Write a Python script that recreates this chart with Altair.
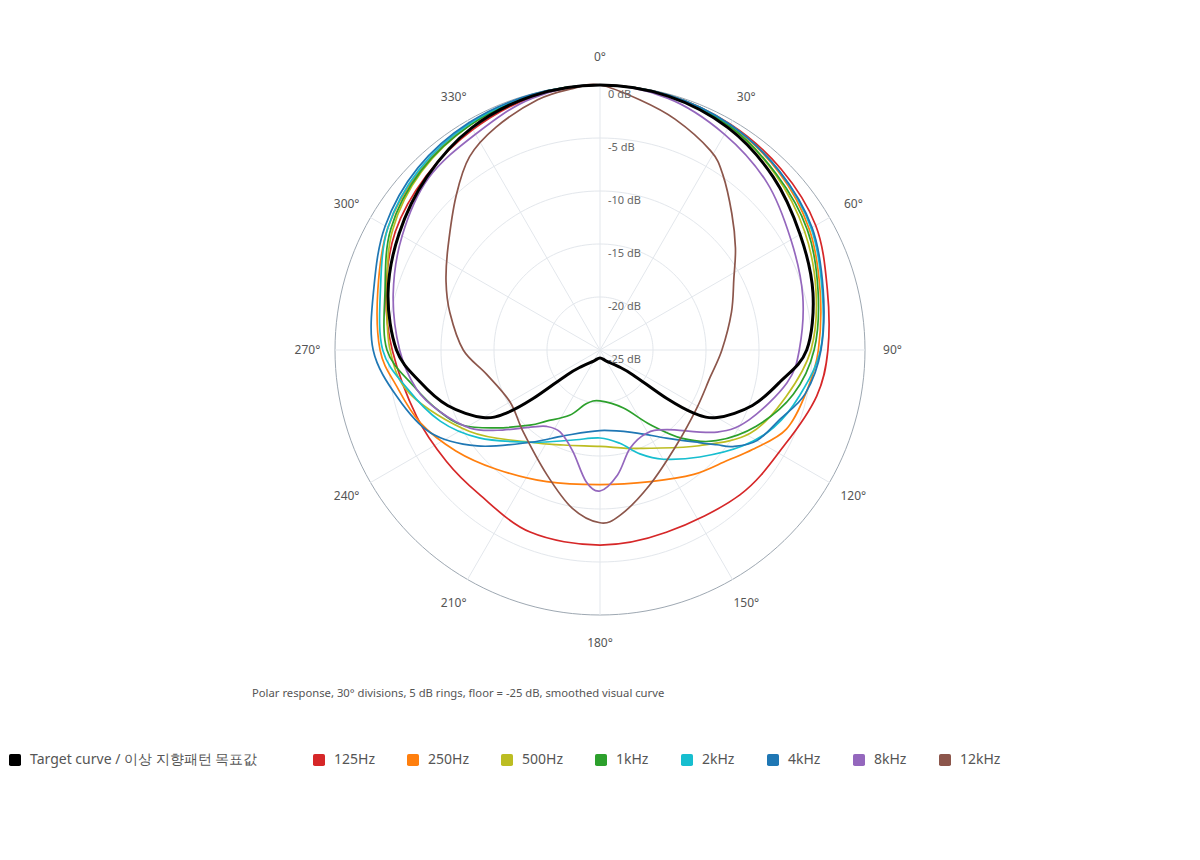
import altair as alt
import pandas as pd

FLOOR_DB = -25.0

SERIES = ["125Hz", "250Hz", "500Hz", "1kHz", "2kHz", "4kHz", "8kHz", "12kHz"]
COLORS = ["#d62728", "#ff7f0e", "#bcbd22", "#2ca02c", "#17becf", "#1f77b4", "#9467bd", "#8c564b"]
TARGET_NAME = "Target curve / 이상 지향패턴 목표값"

# --- measured curves: angle (deg, clockwise from front) and level (dB) ---
ang_125 = [0, 15, 30, 45, 60, 75, 90, 102, 117, 136, 160, 180, 201, 220, 234, 250, 270, 285, 300, 315, 330, 345]
db_125 = [0, -0.1, -0.4, -0.85, -1.5, -2.8, -3.5, -4.1, -5.4, -6.0, -6.7, -6.6, -6.6, -7.25, -7.1, -6.6, -5.4, -4.1, -2.7, -1.8, -1.0, -0.3]

ang_250 = [0, 15, 30, 45, 60, 75, 90, 101, 113, 123, 131, 143, 159, 180, 202, 221, 235, 248, 260, 270, 285, 300, 315, 330, 345]
db_250 = [0, -0.1, -0.5, -1.2, -2.2, -3.5, -4.4, -5.1, -5.9, -7.8, -9.1, -10.3, -11.7, -12.3, -11.6, -10.1, -8.4, -6.7, -5.5, -4.25, -3.3, -1.9, -1.0, -0.4, -0.1]

ang_500 = [0, 15, 30, 45, 60, 75, 90, 104, 119, 134, 153, 165, 180, 201, 217, 238, 257, 270, 285, 300, 315, 330, 345]
db_500 = [0, -0.15, -0.6, -1.6, -2.7, -3.9, -5.1, -6.9, -8.8, -12.0, -14.6, -15.4, -15.9, -15.4, -14.1, -10.5, -6.6, -5.2, -4.2, -2.4, -1.2, -0.5, -0.1]

ang_1k = [0, 15, 30, 45, 60, 75, 90, 103, 116, 128, 137, 146, 158, 180, 194, 205, 217, 223, 233, 241, 249, 259, 270, 285, 300, 315, 330, 345]
db_1k = [0, -0.15, -0.6, -1.5, -2.4, -3.7, -4.8, -6.3, -8.6, -11.1, -13.6, -16.5, -19.1, -20.2, -19.8, -18.2, -16.6, -15.3, -12.8, -10.3, -8.8, -7.1, -4.9, -4.0, -2.2, -1.1, -0.5, -0.1]

ang_2k = [0, 15, 30, 45, 60, 75, 90, 103, 114, 124, 137, 150, 159, 168, 180, 198, 217, 234, 246, 259, 270, 285, 300, 315, 330, 345]
db_2k = [0, -0.1, -0.45, -1.1, -2.0, -3.3, -4.2, -5.7, -7.05, -8.8, -11.2, -13.1, -14.5, -16.0, -16.7, -16.05, -14.1, -10.9, -8.5, -6.4, -4.5, -3.55, -1.9, -0.9, -0.35, -0.1]

ang_4k = [0, 15, 30, 45, 60, 75, 90, 102, 111, 120, 126, 129, 133, 143, 158, 180, 203, 217, 232, 244, 257, 270, 285, 300, 315, 330, 345]
db_4k = [0, -0.1, -0.45, -1.1, -1.9, -3.2, -4.15, -5.2, -6.8, -7.9, -9.5, -10.8, -12.2, -14.6, -16.6, -17.4, -16.2, -14.1, -10.3, -7.2, -5.35, -3.6, -2.9, -1.6, -0.7, -0.25, -0.05]

ang_8k = [0, 15, 30, 45, 60, 75, 90, 100, 115, 125, 140, 151, 163, 172, 180, 186, 195, 206, 215, 222, 232, 239, 249, 258, 270, 285, 300, 315, 330, 345]
db_8k = [0, -0.4, -1.5, -2.7, -4.2, -5.2, -6.2, -7.1, -9.45, -11.5, -15.2, -16.0, -15.3, -13.1, -11.7, -12.5, -15.1, -16.4, -16.2, -15.2, -12.7, -10.7, -8.8, -7.3, -6.1, -4.8, -3.45, -2.1, -1.5, -0.4]

ang_12k = [0, 9, 18, 29, 35, 44, 53, 62, 74, 90, 104, 121, 141, 160, 173, 180, 190, 203, 223, 240, 258, 270, 284, 294, 304, 317, 326, 335, 346, 354]
db_12k = [0, -1.1, -2.1, -3.5, -4.8, -7.1, -9.0, -10.7, -12.1, -13.5, -14.3, -14.35, -13.5, -11.4, -9.3, -8.7, -9.85, -12.2, -14.4, -15.2, -14.05, -12.1, -10.4, -9.1, -7.7, -5.1, -3.0, -1.8, -0.67, -0.2]

ang_target = [0, 15, 30, 45, 60, 75, 90, 100, 110, 120, 124, 126, 127, 132, 150, 180, 210, 228, 233, 234, 236, 240, 250, 260, 270, 285, 300, 315, 330, 345]
db_target = [0, -0.2, -0.8, -1.9, -3.2, -4.2, -5.5, -7.75, -9.7, -12.25, -14.4, -17.2, -21.1, -22.7, -23.8, -24.25, -23.8, -22.7, -21.1, -17.2, -14.4, -12.25, -9.7, -7.75, -5.8, -4.3, -3.1, -1.9, -0.8, -0.2]

curve_angles = [ang_125, ang_250, ang_500, ang_1k, ang_2k, ang_4k, ang_8k, ang_12k]
curve_dbs = [db_125, db_250, db_500, db_1k, db_2k, db_4k, db_8k, db_12k]

# grid definition
ring_levels = [-20, -15, -10, -5]
outer_level = [0]
label_levels = [0, -5, -10, -15, -20, -25]
spoke_angles = list(range(0, 360, 30))
circle_steps = list(range(0, 360, 2))

rows = []
for name, angs, dbs in zip(SERIES, curve_angles, curve_dbs):
    for a, d in zip(angs, dbs):
        rows.append({"series": name, "angle": a, "db": d})
curves_df = pd.DataFrame(rows)
target_df = pd.DataFrame({"series": TARGET_NAME, "angle": ang_target, "db": db_target})

rings_df = pd.DataFrame([{"level": lv, "angle": a} for lv in ring_levels for a in circle_steps])
outer_df = pd.DataFrame([{"level": lv, "angle": a} for lv in outer_level for a in circle_steps])
spokes_df = pd.DataFrame({"angle": spoke_angles})
dblab_df = pd.DataFrame({"level": label_levels})

XS = alt.Scale(domain=[-25, 25], nice=False, zero=False)
YS = alt.Scale(domain=[-25, 25], nice=False, zero=False)


def polar(chart, db_field="db", ang_field="angle"):
    return chart.transform_calculate(
        r=f"max(0, datum.{db_field} - ({FLOOR_DB}))"
    ).transform_calculate(
        px=f"datum.r * sin(datum.{ang_field} * PI / 180)",
        py=f"datum.r * cos(datum.{ang_field} * PI / 180)",
    )


def xy():
    return dict(
        x=alt.X("px:Q", scale=XS, axis=None),
        y=alt.Y("py:Q", scale=YS, axis=None),
    )


rings = polar(alt.Chart(rings_df), db_field="level").mark_line(
    interpolate="linear-closed", stroke="#e3e7ec", strokeWidth=1
).encode(detail="level:N", order="angle:Q", **xy())

outer = polar(alt.Chart(outer_df), db_field="level").mark_line(
    interpolate="linear-closed", stroke="#9ea8b2", strokeWidth=1
).encode(detail="level:N", order="angle:Q", **xy())

spokes = alt.Chart(spokes_df).transform_calculate(
    x0="0", y0="0",
    x1="25 * sin(datum.angle * PI / 180)",
    y1="25 * cos(datum.angle * PI / 180)",
).mark_rule(stroke="#e3e7ec", strokeWidth=1).encode(
    x=alt.X("x0:Q", scale=XS, axis=None),
    y=alt.Y("y0:Q", scale=YS, axis=None),
    x2="x1:Q",
    y2="y1:Q",
)

ang_labels = alt.Chart(spokes_df).transform_calculate(
    px="27.6 * sin(datum.angle * PI / 180)",
    py="27.6 * cos(datum.angle * PI / 180)",
    label="datum.angle + '°'",
).mark_text(font="Noto Sans", fontSize=12, color="#555", align="center", baseline="middle").encode(
    text="label:N", **xy()
)

db_labels = alt.Chart(dblab_df).transform_calculate(
    px="0",
    py=f"datum.level - ({FLOOR_DB})",
    label="datum.level + ' dB'",
).mark_text(font="Noto Sans", fontSize=11, color="#666", align="left", baseline="middle", dx=8, dy=10).encode(
    text="label:N", **xy()
)

freq_lines = polar(alt.Chart(curves_df)).mark_line(
    interpolate="cardinal-closed", strokeWidth=1.7
).encode(
    color=alt.Color("series:N", scale=alt.Scale(domain=SERIES, range=COLORS), legend=None),
    detail="series:N",
    order="angle:Q",
    **xy(),
)

target_line = polar(alt.Chart(target_df)).mark_line(
    interpolate="cardinal-closed", strokeWidth=3, color="#000000"
).encode(order="angle:Q", **xy())

ROUNDED = "M-0.7,-1 L0.7,-1 Q1,-1 1,-0.7 L1,0.7 Q1,1 0.7,1 L-0.7,1 Q-1,1 -1,0.7 L-1,-0.7 Q-1,-1 -0.7,-1 Z"

common_legend = dict(
    orient="none",
    direction="horizontal",
    title=None,
    symbolType=ROUNDED,
    symbolSize=144,
    symbolStrokeWidth=0,
    symbolOpacity=1,
    labelFont="Noto Sans",
    labelFontSize=14,
    labelColor="#555",
    labelOffset=8,
    labelLimit=400,
    padding=0,
    legendY=668,
)

freq_legend = polar(alt.Chart(curves_df)).transform_filter("false").mark_point(
    filled=True, shape=ROUNDED
).encode(
    color=alt.Color(
        "series:N",
        scale=alt.Scale(domain=SERIES, range=COLORS),
        legend=alt.Legend(legendX=-23, columnPadding=31, **common_legend),
    ),
    **xy(),
)

target_legend = polar(alt.Chart(target_df)).transform_filter("false").mark_point(
    filled=True, shape=ROUNDED
).encode(
    color=alt.Color(
        "series:N",
        scale=alt.Scale(domain=[TARGET_NAME], range=["#000000"]),
        legend=alt.Legend(legendX=-327, columnPadding=10, **common_legend),
    ),
    **xy(),
)

chart = alt.layer(
    rings, outer, spokes, freq_lines, target_line, ang_labels, db_labels, freq_legend, target_legend
).resolve_scale(color="independent").properties(
    width=530,
    height=530,
    background="white",
    autosize=alt.AutoSizeParams(type="none"),
    padding={"left": 327, "top": 77, "right": 327, "bottom": 237},
    title=alt.TitleParams(
        text="Polar response, 30° divisions, 5 dB rings, floor = -25 dB, smoothed visual curve",
        orient="bottom",
        anchor="start",
        frame="group",
        offset=-79,
        dx=-83,
        font="Noto Sans",
        fontSize=11.25,
        fontWeight="normal",
        color="#555",
    ),
).configure_view(stroke=None, strokeWidth=0)

chart.save("out.html", embed_options={"renderer": "svg", "actions": False})
